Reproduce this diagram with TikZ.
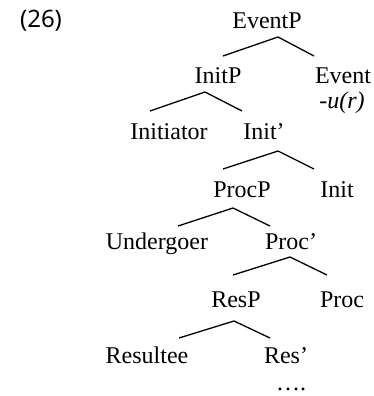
\documentclass[tikz,border=0pt]{standalone}
\usepackage{fontspec}
\setmainfont{Liberation Serif}
\newfontfamily\exnumfont{Noto Sans}
\usepackage{tikz}

\begin{document}
\begin{tikzpicture}[x=0.5pt, y=-0.5pt, line width=0.65pt,
    lbl/.style={anchor=base, inner sep=0pt, font=\fontsize{12}{14}\selectfont}]
    \useasboundingbox (0,0) rectangle (374,396);
    % Nodes
    \node[lbl, font=\exnumfont\fontsize{12}{14}\selectfont] (ex) at (41,27) {(26)};
    \node[lbl] (EventP) at (267,28) {EventP};
    \node[lbl] (InitP) at (218,83) {InitP};
    \node[lbl] (Event) at (343,83) {Event};
    \node[lbl] (suffix) at (342,108) {\textit{-u(r)}};
    \node[lbl] (Initiator) at (169,139) {Initiator};
    \node[lbl] (InitBar) at (264,139) {Init'};
    \node[lbl] (ProcP) at (242,197) {ProcP};
    \node[lbl] (Init) at (337,197) {Init};
    \node[lbl] (Undergoer) at (157,249) {Undergoer};
    \node[lbl] (ProcBar) at (291,249) {Proc'};
    \node[lbl] (ResP) at (236,307) {ResP};
    \node[lbl] (Proc) at (342,307) {Proc};
    \node[lbl] (Resultee) at (147,363) {Resultee};
    \node[lbl] (ResBar) at (286,363) {Res'};
    \node[lbl] (dots) at (291,390) {….};
    % Branches
    \coordinate (a1) at (278,37);  \coordinate (l1) at (223,56);  \coordinate (r1) at (314,56);
    \coordinate (a2) at (205,92);  \coordinate (l2) at (150,111); \coordinate (r2) at (242,111);
    \coordinate (a3) at (278,151); \coordinate (l3) at (223,169); \coordinate (r3) at (314,169);
    \coordinate (a4) at (233,208); \coordinate (l4) at (178,226); \coordinate (r4) at (270,226);
    \coordinate (a5) at (290,257); \coordinate (l5) at (233,275); \coordinate (r5) at (327,275);
    \coordinate (a6) at (234,321); \coordinate (l6) at (179,338); \coordinate (r6) at (270,338);
    \foreach \i in {1,...,6}
      \draw (l\i) -- (a\i) -- (r\i);
  \end{tikzpicture}
\end{document}
